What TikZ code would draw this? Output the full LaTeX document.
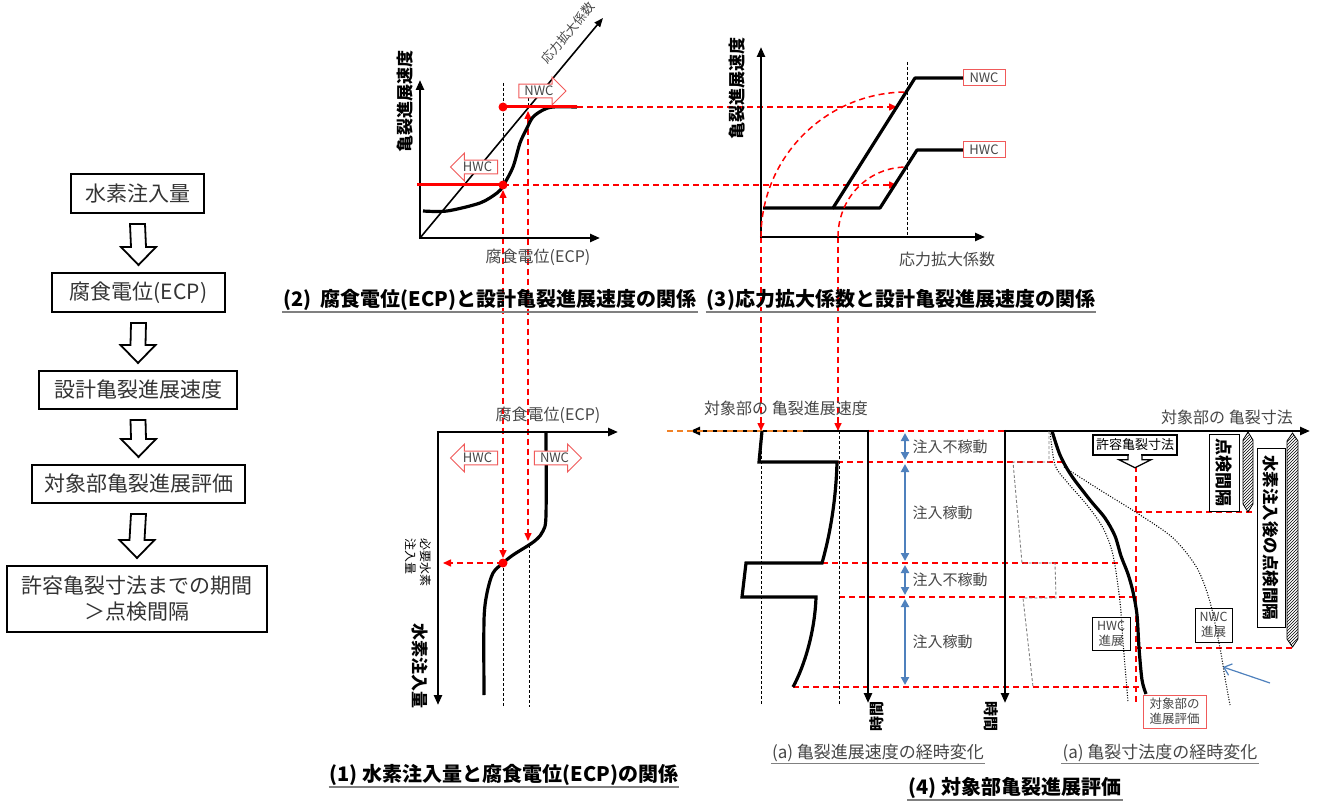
\documentclass[tikz,border=0pt]{standalone}
\usepackage{fontspec}
\setmainfont{Noto Sans CJK JP}
\usepackage{tikz}
\usetikzlibrary{arrows.meta, shapes.arrows, patterns, calc}

\definecolor{lblgray}{RGB}{70,70,70}
\definecolor{msblue}{RGB}{79,129,189}
\definecolor{msorange}{RGB}{240,130,40}
\definecolor{boxred}{RGB}{240,90,90}
\newcommand{\fsz}[1]{\fontsize{#1}{#1}\selectfont}

\begin{document}
\begin{tikzpicture}[x=1pt, y=-1pt,
    flowbox/.style={draw, line width=2pt, font=\fsz{21}, text=black!80, align=center, inner sep=2pt},
    hollowarr/.style={draw, line width=1.8pt, fill=white, line join=miter},
    axisline/.style={line width=2.4pt, -{Triangle[length=10pt,width=8pt]}},
    thickcurve/.style={line width=3.2pt, line join=round},
    reddash/.style={red, line width=1.5pt, dash pattern=on 6pt off 4pt},
    blackdash/.style={line width=0.9pt, dash pattern=on 3pt off 2pt},
    graydash/.style={gray, line width=0.9pt, dash pattern=on 3pt off 2pt},
    dotcurve/.style={line width=1.1pt, dash pattern=on 1pt off 1.6pt},
    redtip/.style={-{Triangle[length=8pt,width=7pt]}},
    redtips/.style={{Triangle[length=8pt,width=7pt]}-{Triangle[length=8pt,width=7pt]}},
    wcarrow/.style={single arrow, draw=boxred, line width=1pt, fill=white, text=lblgray, font=\fsz{13}, inner sep=1.5pt, single arrow head extend=7pt, minimum height=47pt},
    wcbox/.style={draw=boxred, line width=1pt, fill=white, text=lblgray, font=\fsz{13}, inner sep=1pt, minimum width=42pt, minimum height=16pt},
    axlabel/.style={text=lblgray, font=\fsz{16}},
    vlabel/.style={font=\bfseries\fsz{17}},
    figtitle/.style={font=\bfseries\fsz{20}, inner sep=1pt},
    sublabel/.style={text=lblgray, font=\fsz{17}, inner sep=1pt},
    phasearrow/.style={msblue, line width=2.5pt, {Triangle[length=8pt,width=8pt]}-{Triangle[length=8pt,width=8pt]}},
    phaselabel/.style={text=lblgray, font=\fsz{15}, anchor=west},
    notebox/.style={draw, line width=0.8pt, text=lblgray, font=\fontsize{12.5}{15}\selectfont, align=center, inner sep=2pt},
    vbox/.style={draw, line width=1pt, rotate=-90, inner sep=1pt},
    hatchbar/.style={line width=0.8pt, pattern=north east lines}
  ]
\useasboundingbox (0,0) rectangle (1319,802);

% flow
\node[flowbox, minimum width=133pt, minimum height=39pt] (b1) at (137.5,193.5) {水素注入量};
\node[flowbox, minimum width=173pt, minimum height=39pt] (b2) at (138.5,292.5) {腐食電位(ECP)};
\node[flowbox, minimum width=198pt, minimum height=38pt] (b3) at (138,390) {設計亀裂進展速度};
\node[flowbox, minimum width=213pt, minimum height=38pt] (b4) at (138.5,484) {対象部亀裂進展評価};
\node[flowbox, minimum width=260pt, minimum height=66pt, font=\fontsize{21}{26}\selectfont] (b5) at (137,599) {許容亀裂寸法までの期間\\＞点検間隔};
\foreach \a/\b in {b1/b2,b2/b3,b3/b4,b4/b5} {
  \draw[hollowarr] ($(\a.south)+(-7.5,10)$) -- ($(\b.north)+(-7.5,-25)$) -- ++(-10,0)
    -- ($(\b.north)+(0,-7)$) -- ($(\b.north)+(17.5,-25)$) -- ++(-10,0) -- ($(\a.south)+(7.5,10)$) -- cycle;
}

% links between the graphs
\draw[reddash, redtips] (503,190) -- (503,558);
\draw[reddash, redtips] (528,111) -- (528,541);
\draw[reddash, redtip] (503,185) -- (897,185);
\draw[reddash, redtip] (577,107) -- (897,107);
\draw[reddash, redtip] (761,237) -- (761,431);
\draw[reddash, redtip] (838,237) -- (838,431);

% (2)
\draw[axisline] (420,239.2) -- (420,80);
\draw[axisline] (418.8,238) -- (600,238);
\draw[line width=1.6pt, -{Triangle[length=9pt,width=7pt]}] (420,238) -- (603,18);
\node[rotate=50, font=\fsz{12.5}, text=lblgray, inner sep=0pt] (kdiag) at (568,33) {応力拡大係数};
\node[vlabel, rotate=90] (vax2) at (405,102) {亀裂進展速度};
\node[axlabel] (ecp2) at (538,257) {腐食電位(ECP)};
\draw[thickcurve] plot[smooth] coordinates {(423,211) (447,211) (480,203) (497,193) (503,186) (513,167) (520,143) (527,128) (533,117) (543,110) (553,107) (577,107)};
\draw[blackdash] (503,83) -- (503,185);
\draw[blackdash] (528,93) -- (528,107);
\draw[red, line width=3pt] (417,185) -- (503,185);
\draw[red, line width=3pt] (503,107) -- (577,107);
\fill[red] (503,185) circle[radius=4.5pt] (503,107) circle[radius=4.5pt];
\node[wcarrow, shape border rotate=180] (hwc2) at (477.5,167) {HWC};
\node[wcarrow] (nwc2) at (539,91) {NWC};
\node[figtitle] (ttl2) at (490,300) {(2)\ \ 腐食電位(ECP)と設計亀裂進展速度の関係};

% (3)
\draw[axisline] (761,238.2) -- (761,47);
\draw[axisline] (759.8,237) -- (985,237);
\draw[blackdash] (907,62) -- (907,237);
\draw[thickcurve] (763,208) -- (833,208) -- (915,78) -- (963,78);
\draw[thickcurve] (833,208) -- (880,208) -- (917,150) -- (963,150);
\node[wcbox] (nwc3) at (984,78) {NWC};
\node[wcbox] (hwc3) at (984,150) {HWC};
\draw[reddash] (761,237) .. controls (761,157) and (826,92) .. (907,92);
\draw[reddash] (838,237) .. controls (838,198) and (868,167) .. (907,167);
\node[vlabel, rotate=90] (vax3) at (737,89) {亀裂進展速度};
\node[axlabel] (kax3) at (947,259) {応力拡大係数};
\node[figtitle] (ttl3) at (901,300) {(3)応力拡大係数と設計亀裂進展速度の関係};

% (1)
\draw[axisline] (436.8,432) -- (618,432);
\draw[axisline] (438,430.8) -- (438,705);
\draw[thickcurve] plot[smooth] coordinates {(546,432) (546,515) (543,531) (537,539) (529,545) (513,555) (503,563) (493,573) (487,593) (484,620) (484,695)};
\draw[blackdash] (503,563) -- (503,707);
\draw[blackdash] (529,545) -- (529,707);
\draw[reddash, redtip] (503,563) -- (443,563);
\fill[red] (503,563) circle[radius=4.5pt];
\node[wcarrow, shape border rotate=180] (hwc1) at (477.5,458) {HWC};
\node[wcarrow] (nwc1) at (554.5,458) {NWC};
\node[axlabel] (ecp1) at (548,415) {腐食電位(ECP)};
\node[rotate=-90, align=left, font=\fontsize{12}{15}\selectfont] (need) at (418,562) {必要水素\\注入量};
\node[vlabel, rotate=-90] (h2ax) at (420,666) {水素注入量};
\node[figtitle] (ttl1) at (504,775) {(1) 水素注入量と腐食電位(ECP)の関係};

% (4) red guide lines
\foreach \xa/\ya/\xb in {868/431/1005, 837/462/1062, 822/563/1122, 839/597/1135, 793/687/1143, 1136/512/1253, 1136/648/1295}
  \draw[reddash] (\xa,\ya) -- (\xb,\ya);
\draw[reddash] (1136,466) -- (1136,705);

% (4a)
\draw[axisline] (869.2,431) -- (690,431);
\draw[msorange, line width=1.5pt, dash pattern=on 6pt off 4pt] (667,431) -- (807,431);
\draw[axisline] (868,429.8) -- (868,703);
\draw[blackdash] (761,431) -- (761,705);
\draw[blackdash] (839,431) -- (839,705);
\draw[thickcurve, line join=miter] (762,431) -- (759,462) -- (837,462) .. controls (836,500) and (830,535) .. (822,563)
  -- (746,563) -- (742,597) -- (816,597) .. controls (815,630) and (805,665) .. (793,687);
\foreach \ya/\yb/\txt in {431/462/注入不稼動, 462/563/注入稼動, 563/597/注入不稼動, 597/687/注入稼動} {
  \draw[phasearrow] (905,\ya+2) -- (905,\yb-2);
  \node[phaselabel] (ph\ya) at (909,{(\ya+\yb)/2}) {\txt};
}
\node[axlabel] (rate) at (786,408) {対象部の 亀裂進展速度};
\node[font=\bfseries\fsz{15}, rotate=90] (time1) at (877,716) {時間};
\node[sublabel] (suba) at (878,753) {(a) 亀裂進展速度の経時変化};

% (4b)
\draw[axisline] (1003.8,431) -- (1310,431);
\draw[axisline] (1005,429.8) -- (1005,703);
\draw[graydash] (1049,431) -- (1049,462) -- (1013,462) -- (1022,563) -- (1055,563) -- (1056,598) -- (1023,598) -- (1033,687);
\draw[dotcurve] plot[smooth] coordinates {(1050,431) (1055,465) (1067,482) (1087,505) (1103,528) (1113,555) (1120,602) (1123,642) (1128,702)};
\draw[dotcurve] plot[smooth] coordinates {(1064,467) (1100,490) (1137,513) (1173,538) (1197,568) (1210,602) (1220,648) (1225,678) (1230,705)};
\draw[thickcurve] plot[smooth] coordinates {(1052,431) (1060,455) (1071,475) (1090,500) (1105,518) (1115,536) (1121,556) (1128,574) (1133,592) (1137,615) (1139,648) (1142,680) (1146,694)};
\node[axlabel] (size) at (1227,417) {対象部の 亀裂寸法};
\node[font=\bfseries\fsz{15}, rotate=-90] (time2) at (991,716) {時間};
\node[draw, line width=1.5pt, fill=white, font=\fsz{13}, inner sep=1pt, minimum width=84pt, minimum height=20pt] (allow) at (1135,445) {許容亀裂寸法};
\draw[line width=1.2pt, fill=white] ($(allow.south)+(-7,0)$) -- ++(0,4) -- ++(-9,0) -- ($(allow.south)+(0,12)$)
  -- ++(16,-8) -- ++(-9,0) -- ++(0,-4);
\fill[white] ($(allow.south)+(-6.4,-1.5)$) rectangle ($(allow.south)+(6.4,3)$);
\node[vbox, font=\bfseries\fsz{17}, minimum width=77pt, minimum height=30pt] (insp) at (1224,472.5) {点検間隔};
\node[vbox, font=\bfseries\fsz{16.5}, minimum width=179pt, minimum height=28pt] (inspafter) at (1271,537.5) {水素注入後の点検間隔};
\draw[hatchbar] (1248,432) -- (1253,440) -- (1253,504) -- (1248,512) -- (1243,504) -- (1243,440) -- cycle;
\draw[hatchbar] (1292.5,433) -- (1298,441) -- (1298,639) -- (1292.5,647) -- (1287,639) -- (1287,441) -- cycle;
\node[notebox, minimum width=38pt, minimum height=33pt] (hwcg) at (1111,633.5) {HWC\\進展};
\node[notebox, minimum width=37pt, minimum height=34pt] (nwcg) at (1213.5,625) {NWC\\進展};
\node[notebox, draw=boxred, minimum width=63pt, minimum height=33pt] (evalb) at (1174.5,711.5) {対象部の\\進展評価};
\coordinate (bluefrom) at (1270,683);
\draw[msblue, line width=1.2pt, -{Straight Barb[length=7pt,width=12pt]}] (bluefrom) -- (1223,667);
\node[sublabel] (subb) at (1160,753) {(a) 亀裂寸法度の経時変化};
\node[figtitle] (ttl4) at (1015,788) {(4) 対象部亀裂進展評価};

% underlines
\foreach \t in {ttl1,ttl2,ttl3,ttl4}
  \draw[gray, line width=1.8pt] (\t.south west) -- (\t.south east);
\foreach \t in {suba,subb}
  \draw[gray, line width=1pt] (\t.south west) -- (\t.south east);
\end{tikzpicture}
\end{document}
